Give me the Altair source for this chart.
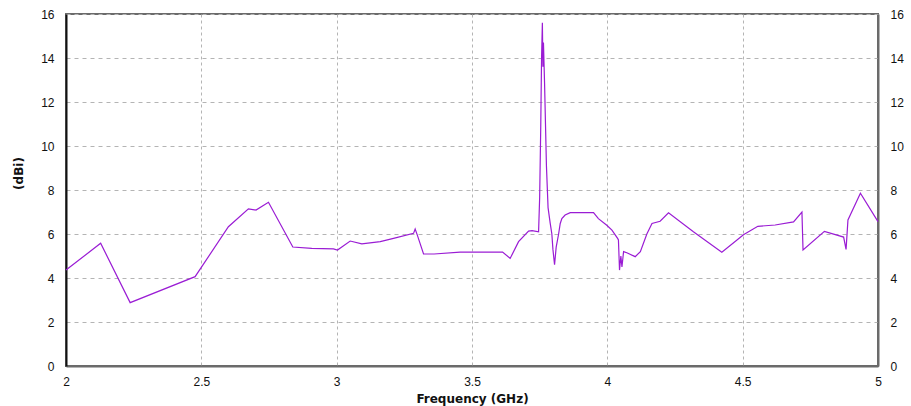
import altair as alt
import pandas as pd

freq = [2.000, 2.128, 2.237, 2.477, 2.600, 2.674, 2.702, 2.748, 2.838, 2.908,
        2.988, 3.003, 3.050, 3.093, 3.161, 3.210, 3.284, 3.290, 3.298, 3.321,
        3.360, 3.456, 3.613, 3.641, 3.672, 3.709, 3.722, 3.746, 3.750, 3.754,
        3.757, 3.760, 3.762, 3.764, 3.768, 3.775, 3.781, 3.789, 3.795, 3.799,
        3.805, 3.811, 3.820, 3.826, 3.832, 3.844, 3.863, 3.949, 3.967, 3.998,
        4.017, 4.038, 4.041, 4.045, 4.050, 4.054, 4.060, 4.072, 4.103, 4.122,
        4.146, 4.165, 4.195, 4.226, 4.318, 4.423, 4.503, 4.556, 4.620, 4.688,
        4.719, 4.723, 4.802, 4.873, 4.882, 4.889, 4.935, 5.000]
gain = [4.36, 5.58, 2.88, 4.06, 6.33, 7.14, 7.09, 7.44, 5.41, 5.35,
        5.32, 5.27, 5.68, 5.55, 5.65, 5.80, 6.03, 6.23, 5.95, 5.09,
        5.09, 5.18, 5.18, 4.89, 5.65, 6.13, 6.15, 6.10, 7.67, 10.9,
        14.0, 15.6, 13.6, 14.7, 12.9, 9.1, 7.2, 6.48, 6.0, 5.3,
        4.6, 5.4, 6.0, 6.48, 6.7, 6.86, 6.97, 6.97, 6.7, 6.4,
        6.18, 5.8, 5.73, 4.36, 5.0, 4.5, 5.2, 5.15, 4.97, 5.2,
        6.0, 6.48, 6.58, 6.96, 6.1, 5.17, 5.97, 6.35, 6.41, 6.55,
        7.0, 5.27, 6.12, 5.86, 5.3, 6.64, 7.85, 6.56]

x_ticks = [2, 2.5, 3, 3.5, 4, 4.5, 5]
y_ticks = [0, 2, 4, 6, 8, 10, 12, 14, 16]

df = pd.DataFrame({"f": freq, "g": gain})

FONT = "Liberation Sans"
TFONT = "DejaVu Sans"

xscale = alt.Scale(domain=[2, 5], nice=False, zero=False)
yscale = alt.Scale(domain=[0, 16], nice=False)

base = alt.Chart(df)

line = base.mark_line(color="#9a1cd4", strokeWidth=1.2).encode(
    x=alt.X("f:Q", scale=xscale,
            axis=alt.Axis(values=x_ticks, title="Frequency (GHz)", format="~g",
                          grid=True, gridColor="#b4b4b4", gridDash=[3, 3],
                          domainColor="#6b6b6b", domainWidth=2,
                          ticks=False, labelPadding=10, labelFlush=False,
                          labelFont=FONT, labelFontSize=12, labelColor="#111",
                          titleFont=TFONT, titleFontSize=12, titleFontWeight="bold",
                          titleColor="#111", titleY=32, titleBaseline="middle")),
    y=alt.Y("g:Q", scale=yscale,
            axis=alt.Axis(values=y_ticks, title="(dBi)", orient="left",
                          grid=True, gridColor="#b4b4b4", gridDash=[4, 4],
                          domainColor="#111", domainWidth=2,
                          ticks=False, labelPadding=12,
                          labelFont=FONT, labelFontSize=12, labelColor="#111",
                          titleFont=TFONT, titleFontSize=12, titleFontWeight="bold",
                          titleColor="#111", titleX=-48, titleY=159,
                          titleAngle=270, titleAlign="center", titleBaseline="middle")),
)

right = base.mark_line(opacity=0).encode(
    x=alt.X("f:Q", scale=xscale),
    y=alt.Y("g:Q", scale=yscale,
            axis=alt.Axis(values=y_ticks, title=None, orient="right",
                          grid=False, domainColor="#6b6b6b", domainWidth=2,
                          ticks=False, labelPadding=12,
                          labelFont=FONT, labelFontSize=12, labelColor="#111")),
)

chart = alt.layer(line, right).resolve_scale(y="independent").properties(
    width=812, height=352,
    autosize=alt.AutoSizeParams(type="none"),
    padding={"left": 66, "top": 14, "right": 33, "bottom": 40},
    background="white",
).configure_view(stroke="#6b6b6b", strokeWidth=2)

chart.save("out.html", embed_options={"renderer": "svg", "actions": False})
